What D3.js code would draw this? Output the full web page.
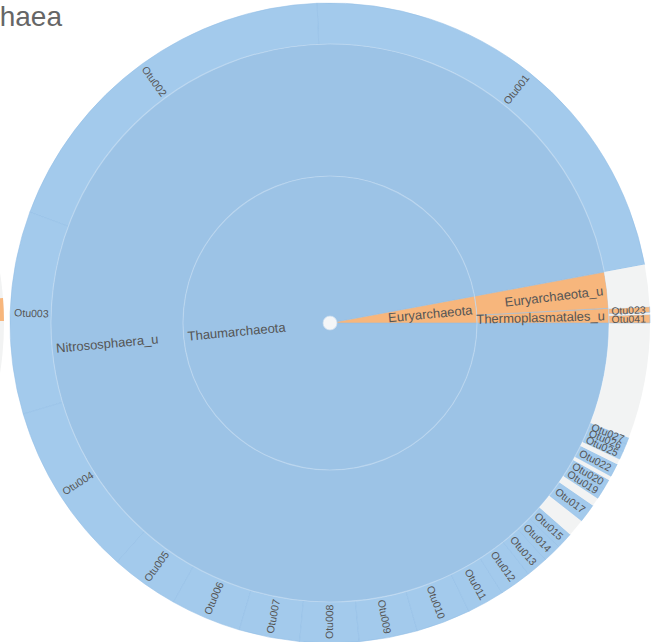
<!DOCTYPE html>
<html><head><meta charset="utf-8">
<script src="https://cdn.jsdelivr.net/npm/d3@7"></script>
<style>
html,body{margin:0;padding:0;background:#fff;overflow:hidden}
svg{display:block}
</style></head><body>
<svg id="chart" width="656" height="642"></svg>
<script>
// ---------------- data (relative abundance, %) ----------------
const title = "Archaea";
const phylumNames = ["Thaumarchaeota", "Euryarchaeota"];
const thaumGenus = "Nitrososphaera_u";
const thaumOtuNames = ["Otu001","Otu002","Otu003","Otu004","Otu005","Otu006","Otu007","Otu008",
  "Otu009","Otu010","Otu011","Otu012","Otu013","Otu014","Otu015","others","Otu017","others",
  "Otu019","Otu020","others","Otu022","others","Otu025","Otu026","Otu027","others"];
const thaumOtuValues = [22.72,18.72,10.22,8.83,3.44,3.56,3.06,2.97,
  2.94,2.75,1.89,1.61,1.11,0.92,0.83,0.89,0.94,0.44,
  0.56,0.50,0.22,0.67,0.28,0.44,0.39,0.33,5.83];
const euryGenera = ["Thermoplasmatales_u", "Euryarchaeota_u"];
const thermoOtuNames = ["Otu041","others","Otu023","others"];
const thermoOtuValues = [0.42,0.11,0.28,0.03];
const euryUOtuNames = ["others"];
const euryUOtuValues = [2.08];
// neighbouring (cropped) chart on the left: its Euryarchaeota OTU share near 0°
const neighborOtuValues = [1.15, 98.85];

// ---------------- layout / style ----------------
const W = 656, H = 642, cx = 330, cy = 323;
const ringRadii = [0, 7, 147, 279, 320];
const phylumColor = {Thaumarchaeota: "#9cc3e6", Euryarchaeota: "#f7b67c"};
const outerColor = {Thaumarchaeota: "#a3caec", Euryarchaeota: "#f8b880"};
const grayFill = "#f2f3f3";

const leaves = (names, vals) => names.map((n, i) => ({name: n, value: vals[i]}));
const data = {name: title, children: [
  {name: phylumNames[0], children: [
    {name: thaumGenus, children: leaves(thaumOtuNames, thaumOtuValues)}]},
  {name: phylumNames[1], children: [
    {name: euryGenera[0], children: leaves(thermoOtuNames, thermoOtuValues)},
    {name: euryGenera[1], children: leaves(euryUOtuNames, euryUOtuValues)}]}
]};

const root = d3.hierarchy(data).sum(d => d.value || 0);
d3.partition().size([1, 1])(root);

const euryShare = root.children[1].value / root.value;
const startDeg = euryShare * 360;                       // math angle (ccw from east)
const angle = d3.scaleLinear().domain([0, 1]).range([startDeg, startDeg + 360]);
const toD3 = deg => (90 - deg) * Math.PI / 180;

const arc = d3.arc()
  .startAngle(d => toD3(angle(d.x0)))
  .endAngle(d => toD3(angle(d.x1)))
  .innerRadius(d => ringRadii[d.depth])
  .outerRadius(d => ringRadii[d.depth + 1]);

const svg = d3.select("#chart");

// neighbour chart (cropped at the left edge)
const nb = svg.append("g").attr("transform", `translate(${cx - 646},${cy})`);
nb.append("circle").attr("r", ringRadii[4]).attr("fill", grayFill);
const nbPie = d3.pie().sort(null).startAngle(Math.PI/2 - 0.0785).endAngle(Math.PI/2 - 0.0785 + 2*Math.PI)(neighborOtuValues);
nb.append("path").datum(nbPie[0])
  .attr("d", d3.arc().innerRadius(ringRadii[3]).outerRadius(ringRadii[4]))
  .attr("fill", phylumColor.Euryarchaeota);

// title
svg.append("text").attr("x", 62).attr("y", 26).attr("text-anchor", "end")
  .attr("font-family", "Liberation Sans, Arial, sans-serif").attr("font-size", 28)
  .attr("fill", "#666").text(title);

const g = svg.append("g").attr("transform", `translate(${cx},${cy})`);

const phylumOf = d => d.ancestors().find(a => a.depth === 1);
const nodes = root.descendants().filter(d => d.depth > 0);

g.selectAll("path.seg").data(nodes).join("path")
  .attr("class", "seg")
  .attr("d", arc)
  .attr("fill", d => d.data.name === "others" ? grayFill
      : (d.depth === 3 ? outerColor : phylumColor)[phylumOf(d).data.name])
  .attr("stroke", d => d.data.name === "others" ? "none" : "#93bfe5")
  .attr("stroke-width", 0.8)
  .attr("stroke-opacity", 0.7);

// ring boundaries (light)
g.selectAll("circle.ring").data([ringRadii[2], ringRadii[3]]).join("circle")
  .attr("class", "ring").attr("r", d => d)
  .attr("fill", "none").attr("stroke", "#ffffff").attr("stroke-opacity", 0.3).attr("stroke-width", 1.2);

// root
g.append("circle").attr("r", ringRadii[1]).attr("fill", "#f4f6f8")
  .attr("stroke", "#c9dced").attr("stroke-width", 0.8);

// labels
const pad = 4;
g.selectAll("text.lbl").data(nodes.filter(d => d.data.name !== "others")).join("text")
  .attr("class", "lbl")
  .attr("transform", d => {
    const m = angle((d.x0 + d.x1) / 2);
    const flip = m > 90 && m < 270;
    return `rotate(${-m}) translate(${ringRadii[d.depth + 1] - pad},0)` + (flip ? " rotate(180)" : "");
  })
  .attr("text-anchor", d => { const m = angle((d.x0 + d.x1) / 2); return (m > 90 && m < 270) ? "start" : "end"; })
  .attr("dy", "0.35em")
  .attr("font-family", "Liberation Sans, Arial, sans-serif")
  .attr("font-size", d => d.depth === 3 ? 10.5 : 13)
  .attr("fill", "#555")
  .text(d => d.data.name);
</script>
</body></html>
